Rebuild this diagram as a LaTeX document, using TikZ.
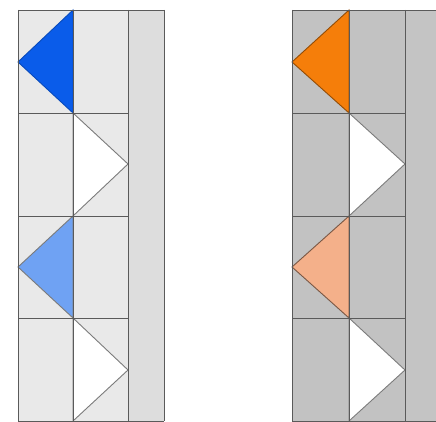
\documentclass[tikz,border=0pt]{standalone}
\usetikzlibrary{calc}
\definecolor{lbg}{HTML}{E9E9E9}
\definecolor{lbg3}{HTML}{DDDDDD}
\definecolor{rbg}{HTML}{C2C2C2}
\definecolor{rbg3}{HTML}{C4C4C4}
\definecolor{gridc}{HTML}{5A5A5A}
\definecolor{blueA}{HTML}{0A5CEA}
\definecolor{blueB}{HTML}{6FA2F3}
\definecolor{oranA}{HTML}{F57E0A}
\definecolor{oranB}{HTML}{F4B08A}
\tikzset{gridline/.style={draw=gridc,line width=0.9pt},
  tri/.style={line width=0.9pt,line join=miter}}
\begin{document}
\begin{tikzpicture}[x=1pt,y=-1pt]
\useasboundingbox (0,0) rectangle (436,422);
\fill[white] (0,0) rectangle (436,422);
% left panel
\fill[lbg] (18,10) rectangle (128,421);
\fill[lbg3] (128,10) rectangle (164,421);
% right panel
\fill[rbg] (292,10) rectangle (405,421);
\fill[rbg3] (405,10) rectangle (436,421);
% triangles left
\filldraw[tri,fill=blueA,draw=blueA!80!black] (73,10) -- (18,62) -- (73,113) -- cycle;
\filldraw[tri,fill=white,draw=gridc!80] (73,113) -- (128,164) -- (73,216) -- cycle;
\filldraw[tri,fill=blueB,draw=gridc!80] (73,216) -- (18,267) -- (73,318) -- cycle;
\filldraw[tri,fill=white,draw=gridc!80] (73,318) -- (128,370) -- (73,421) -- cycle;
% triangles right
\filldraw[tri,fill=oranA,draw=oranA!60!black] (349,10) -- (292,62) -- (349,113) -- cycle;
\filldraw[tri,fill=white,draw=gridc!80] (349,113) -- (405,164) -- (349,216) -- cycle;
\filldraw[tri,fill=oranB,draw=oranB!50!black] (349,216) -- (292,267) -- (349,318) -- cycle;
\filldraw[tri,fill=white,draw=gridc!80] (349,318) -- (405,370) -- (349,421) -- cycle;
% grid left
\foreach \y in {10,113,216,318,421} \draw[gridline] (18,\y) -- (128,\y);
\draw[gridline] (128,10) -- (164,10) (128,421) -- (164,421);
\foreach \x in {18,73,128,164} \draw[gridline] (\x,10) -- (\x,421);
% grid right
\foreach \y in {10,113,216,318,421} \draw[gridline] (292,\y) -- (405,\y);
\draw[gridline] (405,10) -- (436,10) (405,421) -- (436,421);
\foreach \x in {292,349,405} \draw[gridline] (\x,10) -- (\x,421);
\end{tikzpicture}
\end{document}
